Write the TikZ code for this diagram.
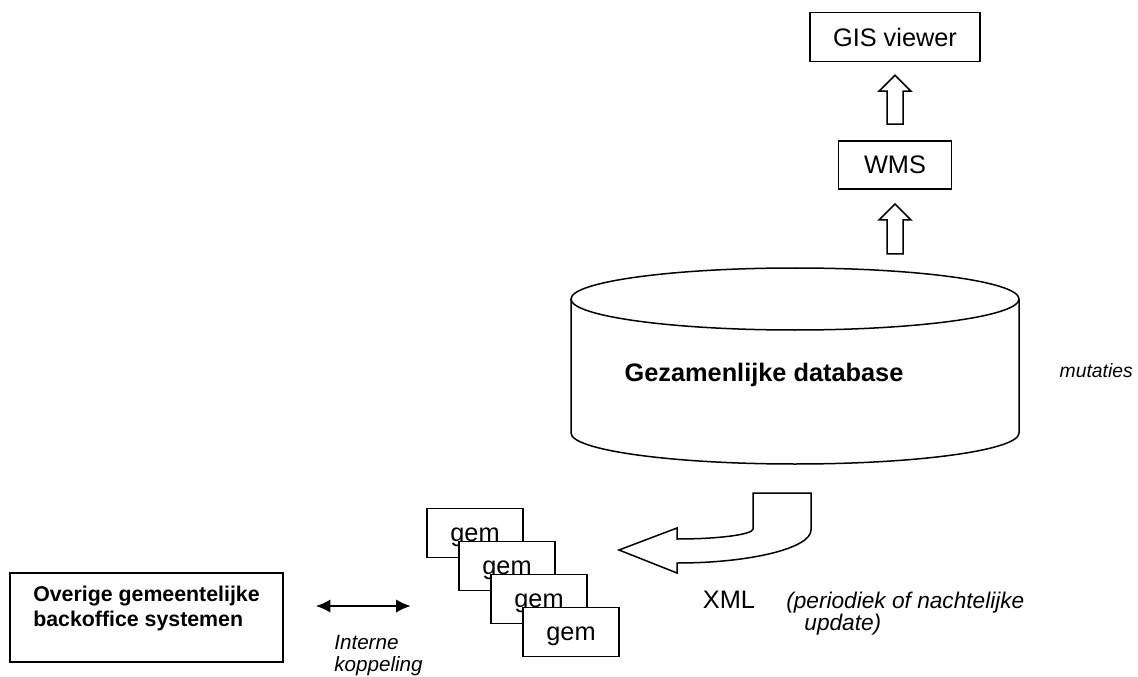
\documentclass[tikz,border=0pt]{standalone}
\usepackage{fontspec}
\setmainfont{Liberation Sans}
\usetikzlibrary{positioning,calc,arrows.meta}
\newdimen\pxu
\pxu=0.75pt
\tikzset{>={Latex[length=11pt,width=10pt]}}
\tikzset{
  outline/.style={line width=1.5\pxu},
  box/.style={rectangle, draw, outline, fill=white, inner sep=0pt, font=\fontsize{19}{22}\selectfont},
  gembox/.style={box, minimum width=96\pxu, minimum height=49\pxu, text height=16\pxu, text depth=0pt},
  note/.style={inner sep=0pt, align=left, font=\itshape\fontsize{15.5}{16.5}\selectfont}
}

\begin{document}
\begin{tikzpicture}[x=\pxu, y=-\pxu]
      \useasboundingbox (0,0) rectangle (1138,677);
      \node[box, minimum width=170\pxu, minimum height=49\pxu] (gis) at (895,37) {GIS viewer};
      \node[box, below of=gis, node distance=96pt, minimum width=113\pxu, minimum height=48\pxu] (wms) {WMS};
      % database
      \draw[outline] (795,299) ellipse [x radius=224, y radius=31];
      \draw[outline] (571,299) -- (571,433) .. controls (571,450) and (671,464) .. (795,464)
                     .. controls (919,464) and (1019,450) .. (1019,433) -- (1019,299);
      \coordinate (dbtop) at (795,268);
      \node[font=\bfseries\fontsize{19}{22}\selectfont] (db) at (764,375) {Gezamenlijke database};
      \node[note, anchor=east, font=\itshape\fontsize{14.5}{16}\selectfont] (mut) at (1133,371) {mutaties};
      % hollow arrows
      \draw[outline] ($(wms.north)+(-8,-16)$) -- ++(0,-33) -- ++(-8,0) -- ++(16,-16) -- ++(16,16) -- ++(-8,0) -- ++(0,33) -- cycle;
      \draw[outline] ($(wms.south |- dbtop)+(-8,-14)$) -- ++(0,-34) -- ++(-8,0) -- ++(16,-16) -- ++(16,16) -- ++(-8,0) -- ++(0,34) -- cycle;
      % gemeenten
      \node[gembox] (gem1) at (475,533) {gem};
      \node[gembox] (gem2) at ($(gem1)+(32,33)$) {gem};
      \node[gembox] (gem3) at ($(gem2)+(32,33)$) {gem};
      \node[gembox] (gem4) at ($(gem3)+(32,33)$) {gem};
      % XML arrow
      \draw[outline] (753,493) -- (811,493) -- (811,530) .. controls (811,548) and (751,563) .. (677,563)
                     -- (677,573) -- (619,550) -- (677,528) -- (677,539)
                     .. controls (719,539) and (753,534.5) .. (753,529) -- cycle;
      \node[font=\fontsize{19}{22}\selectfont] (xml) at (729,600) {XML};
      \node[note, anchor=west, font=\itshape\fontsize{17}{16.5}\selectfont] (upd) at (786,614) {(periodiek of nachtelijke\\\hspace*{0.8em}update)};
      % backoffice
      \node[box, align=left, font=\bfseries\fontsize{16}{18.75}\selectfont, text depth=17pt,
            minimum width=273\pxu, minimum height=89\pxu] (other) at (146.5,617.5) {Overige gemeentelijke\\backoffice systemen};
      \coordinate[right=32\pxu of other.east, yshift=8.6pt] (kl);
      \coordinate (kr) at ($(kl)+(95,0)$);
      \draw[<->, line width=2\pxu] (kl) -- (kr);
      \node[note, anchor=west] (intern) at (334,656) {Interne\\koppeling};
    \end{tikzpicture}
\end{document}
